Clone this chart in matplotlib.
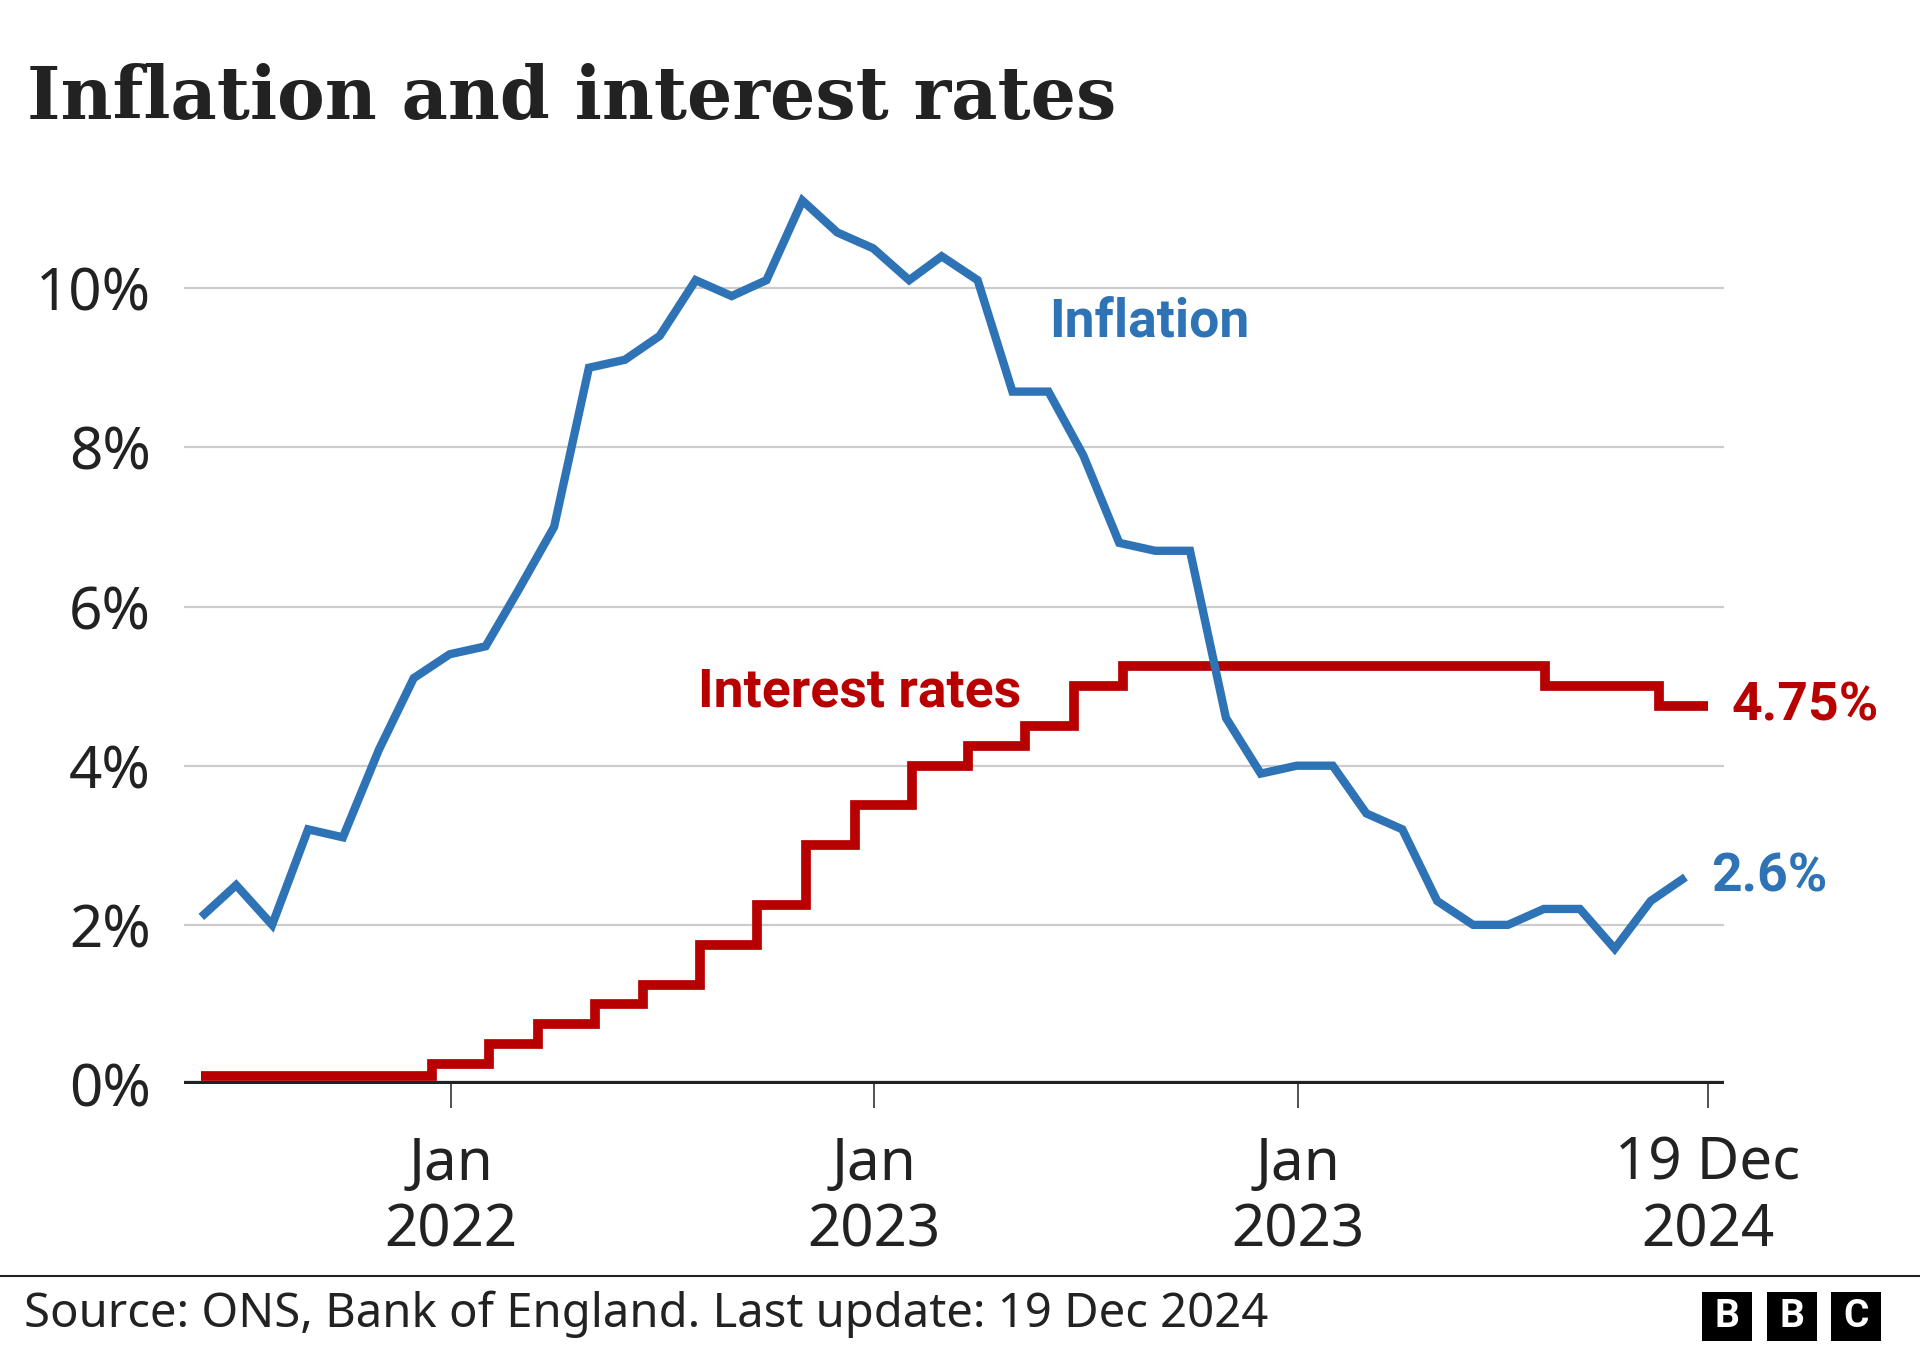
import matplotlib
matplotlib.use("Agg")
import matplotlib.pyplot as plt
from matplotlib.patches import Rectangle
from matplotlib.lines import Line2D
import pandas as pd

plt.rcParams['font.family'] = ['Noto Sans', 'DejaVu Sans']
BOLD = ['Roboto', 'DejaVu Sans']

BLUE = '#2E73B5'
RED = '#B80000'
DARK = '#222222'

# CPI inflation (%), May 2021 - Nov 2024, plotted at month end
cpi_months = pd.date_range('2021-05-01', periods=43, freq='MS') + pd.offsets.MonthEnd(0)
cpi_values = [2.1, 2.5, 2.0, 3.2, 3.1, 4.2, 5.1, 5.4,
              5.5, 6.2, 7.0, 9.0, 9.1, 9.4, 10.1, 9.9, 10.1, 11.1, 10.7, 10.5,
              10.1, 10.4, 10.1, 8.7, 8.7, 7.9, 6.8, 6.7, 6.7, 4.6, 3.9, 4.0,
              4.0, 3.4, 3.2, 2.3, 2.0, 2.0, 2.2, 2.2, 1.7, 2.3, 2.6]

# Bank Rate (%) and the dates it changed
rate_dates = pd.to_datetime(['2021-05-31', '2021-12-16', '2022-02-03', '2022-03-17',
                             '2022-05-05', '2022-06-16', '2022-08-04', '2022-09-22',
                             '2022-11-03', '2022-12-15', '2023-02-02', '2023-03-23',
                             '2023-05-11', '2023-06-22', '2023-08-03', '2024-08-01',
                             '2024-11-07', '2024-12-19'])
rate_values = [0.1, 0.25, 0.5, 0.75, 1.0, 1.25, 1.75, 2.25, 3.0, 3.5,
               4.0, 4.25, 4.5, 5.0, 5.25, 5.0, 4.75, 4.75]

tick_dates = pd.to_datetime(['2022-01-01', '2023-01-01', '2024-01-01', '2024-12-19'])
tick_labels = ['Jan\n2022', 'Jan\n2023', 'Jan\n2023', '19 Dec\n2024']
y_ticks = [0, 2, 4, 6, 8, 10]

fig = plt.figure(figsize=(19.2, 13.5), dpi=100)
ax = fig.add_axes([0.0958, 0.197, 0.802, 0.678])

ax.step(rate_dates, rate_values, where='post', color=RED, lw=7,
        solid_joinstyle='miter', solid_capstyle='butt', zorder=3, clip_on=False)
ax.plot(cpi_months, cpi_values, color=BLUE, lw=6,
        solid_joinstyle='miter', solid_capstyle='butt', zorder=4, clip_on=False)

ax.set_xlim(pd.Timestamp('2021-05-16'), pd.Timestamp('2025-01-02'))
ax.set_ylim(0, 11.5)

for s in ax.spines.values():
    s.set_visible(False)
ax.set_yticks(y_ticks)
ax.set_yticklabels([f'{v}%' for v in y_ticks])
ax.yaxis.grid(True, color='#cccccc', lw=1.6)
ax.set_axisbelow(True)
ax.axhline(0, color=DARK, lw=4.5, zorder=2)
ax.tick_params(axis='y', length=0, pad=24, labelsize=42, labelcolor=DARK)

ax.set_xticks(tick_dates)
ax.set_xticklabels(tick_labels, linespacing=1.17)
ax.tick_params(axis='x', length=17, width=1.1, color=DARK, pad=19.5,
               labelsize=42, labelcolor=DARK)

# direct labels
ax.text(pd.Timestamp('2023-06-01'), 9.58, 'Inflation', color=BLUE, fontsize=38.5,
        family=BOLD, fontweight='bold', va='center', ha='left')
ax.text(pd.Timestamp('2022-08-02'), 4.92, 'Interest rates', color=RED, fontsize=38.5,
        family=BOLD, fontweight='bold', va='center', ha='left')
ax.text(pd.Timestamp('2025-01-09'), rate_values[-1], '4.75%', color=RED, fontsize=38.5,
        family=BOLD, fontweight='bold', va='center', ha='left', clip_on=False)
ax.text(pd.Timestamp('2024-12-22'), cpi_values[-1], '2.6%', color=BLUE, fontsize=38.5,
        family=BOLD, fontweight='bold', va='center', ha='left', clip_on=False)

fig.text(0.014, 0.912, 'Inflation and interest rates', fontsize=51.5,
         family='DejaVu Serif', fontweight='bold', color=DARK, va='baseline')

fig.add_artist(Line2D([0, 1], [0.0548, 0.0548], color=DARK, lw=1.5))
fig.text(0.0125, 0.0267, 'Source: ONS, Bank of England. Last update: 19 Dec 2024',
         fontsize=34, color=DARK, va='center', ha='left')

# BBC blocks
for i, letter in enumerate('BBC'):
    x0 = (1702 + i * 64.5) / 1920
    fig.add_artist(Rectangle((x0, 0.0067), 50 / 1920, 0.0363, facecolor='black',
                             edgecolor='none', transform=fig.transFigure))
    fig.text(x0 + 25 / 1920, 0.0067 + 0.0363 / 2, letter, color='white', fontsize=28,
             family=BOLD, fontweight='bold', ha='center', va='center')

fig.savefig('out.png', dpi=100, facecolor='white')
